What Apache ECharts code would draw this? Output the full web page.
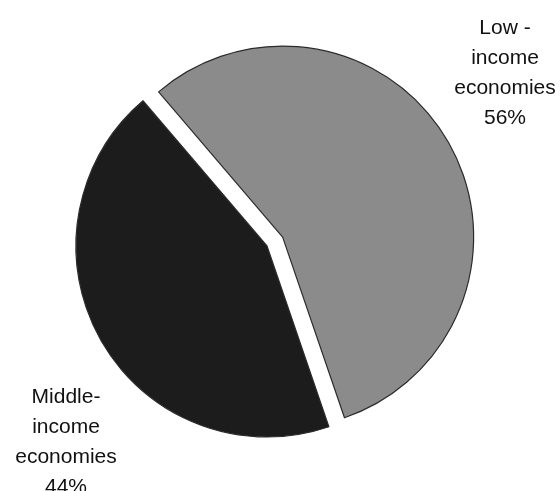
<!DOCTYPE html>
<html>
<head>
<meta charset="utf-8">
<script src="https://cdn.jsdelivr.net/npm/echarts@6/dist/echarts.min.js"></script>
<style>
  html, body { margin: 0; padding: 0; background: #fff; overflow: hidden; }
  #chart { width: 560px; height: 491px; }
</style>
</head>
<body>
<div id="chart"></div>
<script>
// Share of economies by income group
const categories = ['Low -\nincome\neconomies', 'Middle-\nincome\neconomies'];
const shares = [56, 44];
const sliceColors = ['#8b8b8b', '#1c1c1c'];

// label block centres in pixels
const labelSpots = [[505, 73], [66, 442]];

const chart = echarts.init(document.getElementById('chart'), null, { renderer: 'canvas' });

chart.setOption({
  animation: false,
  backgroundColor: '#ffffff',
  graphic: categories.map((c, i) => ({
    type: 'text',
    x: labelSpots[i][0],
    y: labelSpots[i][1],
    silent: true,
    style: {
      text: c + '\n' + shares[i] + '%',
      fontFamily: 'Liberation Sans, Arial, sans-serif',
      fontSize: 21,
      lineHeight: 30,
      fill: '#111',
      align: 'center',
      verticalAlign: 'middle'
    }
  })),
  series: [{
    type: 'pie',
    center: [267, 246],
    radius: [0, 191],
    startAngle: 130.5,
    clockwise: true,
    selectedMode: 'single',
    selectedOffset: 18,
    itemStyle: { borderColor: '#2b2b2b', borderWidth: 1.2 },
    emphasis: { disabled: true },
    label: { show: false },
    labelLine: { show: false },
    data: categories.map((c, i) => ({
      name: c,
      value: shares[i],
      selected: i === 0,
      itemStyle: { color: sliceColors[i] }
    }))
  }]
});
</script>
</body>
</html>
